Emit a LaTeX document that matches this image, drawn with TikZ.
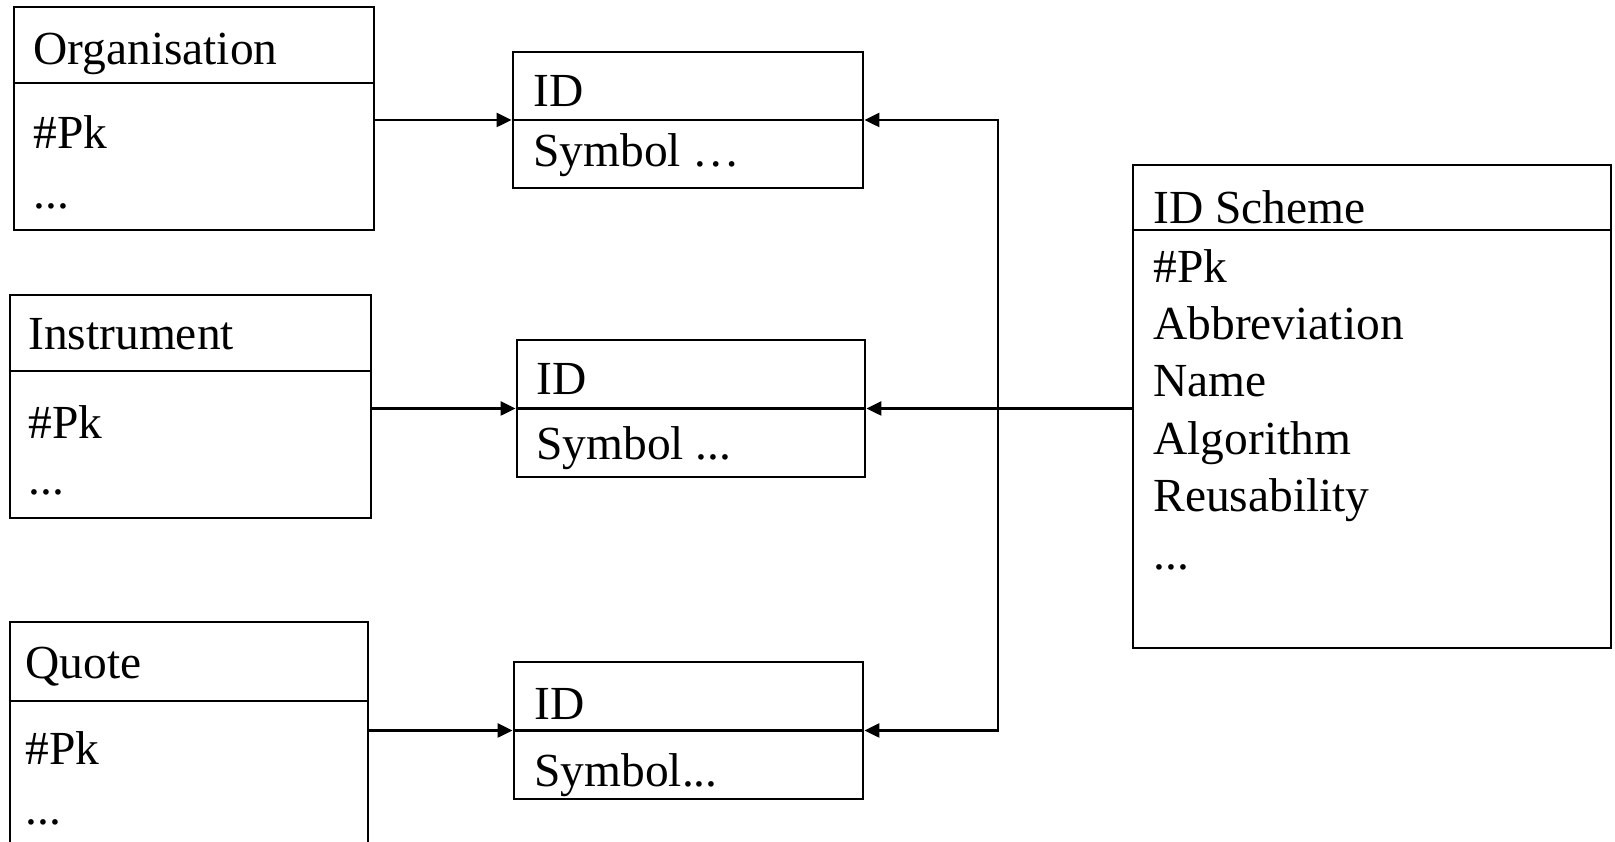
\documentclass[tikz,border=0pt]{standalone}
\usepackage{fontspec}
\setmainfont{Liberation Serif}
\usetikzlibrary{arrows.meta,positioning}

\tikzset{
  classbox/.style={draw, line width=1.6pt, inner sep=0pt},
  divline/.style={line width=1.2pt},
  link/.style={line width=1.3pt},
  linkarrow/.style={link, -{Triangle[length=0.3cm,width=0.28cm]}},
  lbl/.style={anchor=base west, inner sep=0pt},
}

\begin{document}
\begin{tikzpicture}[font=\fontsize{27}{32}\selectfont]
  \clip (0,0) rectangle (32.3,16.84);
  %draw entity boxes
  \node[classbox, minimum width=7.2cm, minimum height=4.46cm] (org) at (3.88,14.47) {};
  \node[classbox, minimum width=7.22cm, minimum height=4.46cm] (instr) at (3.81,8.71) {};
  \node[classbox, minimum width=7.16cm, minimum height=4.9cm] (quote) at (3.78,1.95) {};
  %draw ID boxes
  \node[classbox, minimum width=7cm, minimum height=2.72cm] (id1) at (13.76,14.44) {};
  \node[classbox, minimum width=6.96cm, minimum height=2.74cm] (id2) at (13.82,8.67) {};
  \node[classbox, minimum width=6.98cm, minimum height=2.74cm] (id3) at (13.77,2.23) {};
  %draw scheme box
  \node[classbox, minimum width=9.56cm, minimum height=9.66cm] (scheme) at (27.44,8.71) {};

  %draw compartment lines
  \draw[divline] (org.west |- 0,15.18) -- (org.east |- 0,15.18);
  \draw[divline] (instr.west |- 0,9.42) -- (instr.east |- 0,9.42);
  \draw[divline] (quote.west |- 0,2.82) -- (quote.east |- 0,2.82);
  \draw[divline] (id1.west) -- (id1.east);
  \draw[divline] (id2.west) -- (id2.east);
  \draw[divline] (id3.west) -- (id3.east);
  \draw[divline] (scheme.west |- 0,12.24) -- (scheme.east |- 0,12.24);

  %insert labels of entity boxes
  \node[lbl] (orgname) at (0.66,15.54) {Organisation};
  \node[lbl] (orgpk)   at (0.66,13.86) {\#Pk};
  \node[lbl] (orgmore) at (0.66,12.66) {...};
  \node[lbl] (instrname) at (0.56,9.84) {Instrument};
  \node[lbl] (instrpk)   at (0.56,8.06) {\#Pk};
  \node[lbl] (instrmore) at (0.56,6.94) {...};
  \node[lbl] (quotename) at (0.50,3.26) {Quote};
  \node[lbl] (quotepk)   at (0.50,1.54) {\#Pk};
  \node[lbl] (quotemore) at (0.50,0.34) {...};

  %insert labels of ID boxes
  \node[lbl] (id1name) at (10.66,14.70) {ID};
  \node[lbl] (id1sym)  at (10.66,13.50) {Symbol …};
  \node[lbl] (id2name) at (10.72,8.94) {ID};
  \node[lbl] (id2sym)  at (10.72,7.64) {Symbol ...};
  \node[lbl] (id3name) at (10.68,2.44) {ID};
  \node[lbl] (id3sym)  at (10.68,1.10) {Symbol...};

  %insert labels of scheme box
  \node[lbl] (schemename) at (23.06,12.36) {ID Scheme};
  \node[lbl] (schemepk)   at (23.06,11.18) {\#Pk};
  \node[lbl] (schemeabbr) at (23.06,10.04) {Abbreviation};
  \node[lbl] (schemename2) at (23.06,8.90) {Name};
  \node[lbl] (schemealgo) at (23.06,7.74) {Algorithm};
  \node[lbl] (schemereuse) at (23.06,6.60) {Reusability};
  \node[lbl] (schememore) at (23.06,5.44) {...};

  %draw links to ID boxes
  \draw[linkarrow] (org.east |- id1.west) -- (id1.west);
  \draw[linkarrow] (instr.east |- id2.west) -- (id2.west);
  \draw[linkarrow] (quote.east |- id3.west) -- (id3.west);
  %draw links from scheme
  \coordinate (bus) at (19.96,8.67);
  \draw[linkarrow] (bus) |- (id1.east);
  \draw[linkarrow] (bus) |- (id3.east);
  \draw[linkarrow] (scheme.west |- id2.east) -- (id2.east);
\end{tikzpicture}
\end{document}
